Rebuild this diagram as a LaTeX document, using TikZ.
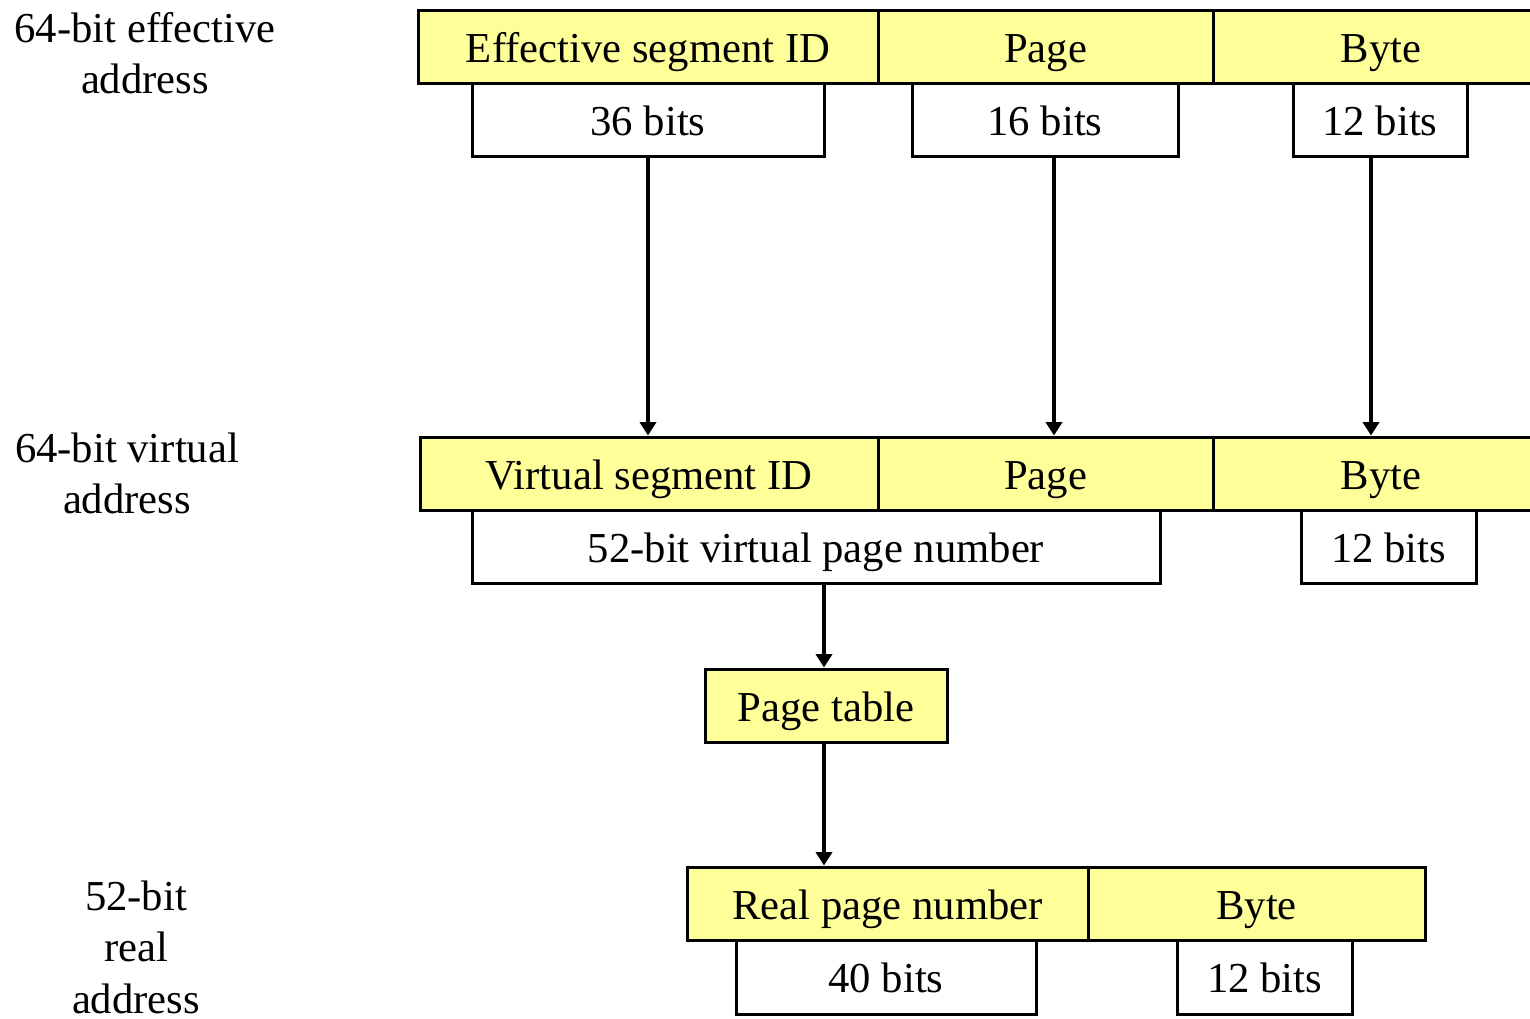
\documentclass[tikz,border=0pt]{standalone}
\usepackage{fontspec}
\setmainfont{Liberation Serif}
\usetikzlibrary{arrows.meta}
\definecolor{fieldyellow}{HTML}{FFFF99}
% centred lines in a box whose baseline is that of the last line
\newcommand{\stacklines}[1]{\vbox{\halign{\hfil##\hfil\cr#1\crcr}}}
\begin{document}
\begin{tikzpicture}[x=0.75pt,y=-0.75pt,
  every node/.style={font=\fontsize{32}{38}\selectfont},
  field/.style={draw=black, line width=2.25pt, fill=fieldyellow, inner sep=0pt,
                minimum height=54.75pt, text height=23.4pt, text depth=0pt},
  bitbox/.style={field, fill=white},
  lbl/.style={inner sep=0pt, anchor=base},
  conn/.style={line width=3pt, -{Triangle[width=12pt,length=10pt]}}]
\useasboundingbox (0,0) rectangle (1530,1018);
\clip (0,0) rectangle (1530,1018);

% address labels on the left
\node[lbl] (eaLabel) at (145,93) {\stacklines{64-bit effective\cr address}};
\node[lbl] (vaLabel) at (127,513) {\stacklines{64-bit virtual\cr address}};
\node[lbl, font=\fontsize{32}{38.5}\selectfont] (raLabel) at (136,1013)
  {\stacklines{52-bit\cr real\cr address}};

% effective address
\node[field, minimum width=345pt]    (esid)  at (648,46.5)    {Effective segment ID};
\node[field, minimum width=251.25pt] (epage) at (1045.5,46.5) {Page};
\node[field, minimum width=252pt]    (ebyte) at (1381,46.5)   {Byte};
\node[bitbox, minimum width=264pt]   (esidBits)  at (648,119.5)  {36 bits};
\node[bitbox, minimum width=199.5pt] (epageBits) at (1045,119.5) {16 bits};
\node[bitbox, minimum width=130.5pt] (ebyteBits) at (1380,119.5) {12 bits};

% virtual address
\node[field, minimum width=343.5pt]  (vsid)  at (649,473.5)    {Virtual segment ID};
\node[field, minimum width=251.25pt] (vpage) at (1045.5,473.5) {Page};
\node[field, minimum width=252pt]    (vbyte) at (1381,473.5)   {Byte};
\node[bitbox, minimum width=516pt]    (vpn)       at (816,546.5)    {52-bit virtual page number};
\node[bitbox, minimum width=131.25pt] (vbyteBits) at (1388.5,546.5) {12 bits};

% page table
\node[field, minimum width=181.5pt] (ptable) at (826,705.5) {Page table};

% real address
\node[field, minimum width=300.75pt] (rpn)   at (887.5,903.5)  {Real page number};
\node[field, minimum width=252.75pt] (rbyte) at (1256.5,903.5) {Byte};
\node[bitbox, minimum width=225pt, minimum height=55.5pt]    (rpnBits)   at (886,977)    {40 bits};
\node[bitbox, minimum width=131.25pt, minimum height=55.5pt] (rbyteBits) at (1264.5,977) {12 bits};

% connectors
\draw[conn] (esidBits.south) -- (esidBits.south |- vsid.north);
\draw[conn] ([xshift=6.75pt]epageBits.south) -- ([xshift=6.75pt]epageBits.south |- vpage.north);
\draw[conn] ([xshift=-6.75pt]ebyteBits.south) -- ([xshift=-6.75pt]ebyteBits.south |- vbyte.north);
\draw[conn] ([xshift=-1.5pt]ptable.north |- vpn.south) -- ([xshift=-1.5pt]ptable.north);
\draw[conn] ([xshift=-1.5pt]ptable.south) -- ([xshift=-1.5pt]ptable.south |- rpn.north);
\end{tikzpicture}
\end{document}
